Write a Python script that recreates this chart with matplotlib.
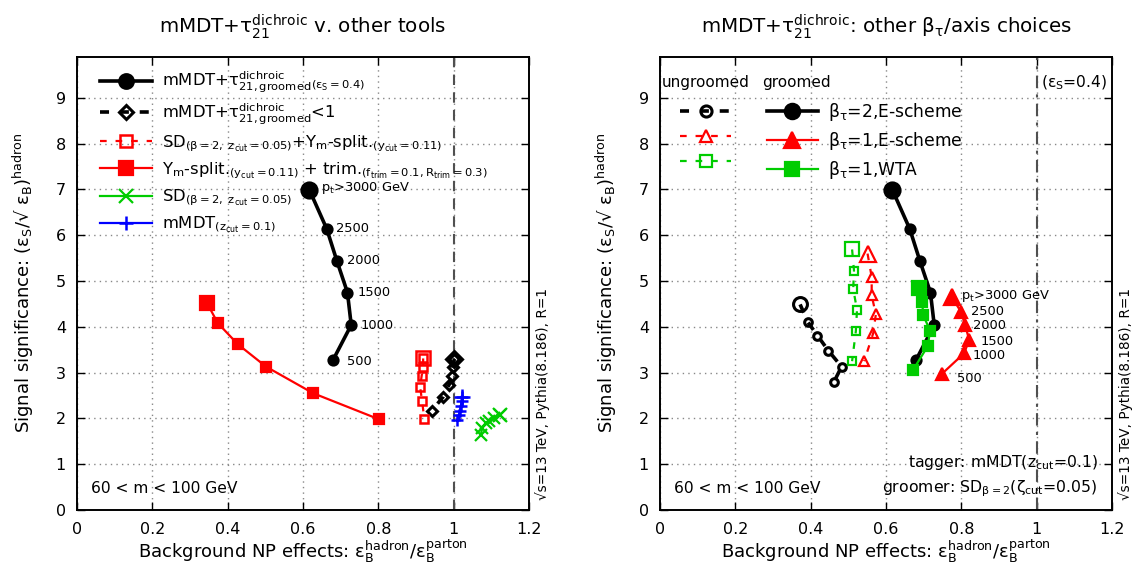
import matplotlib
matplotlib.use('Agg')
import matplotlib.pyplot as plt
from matplotlib.lines import Line2D

plt.rcParams['font.family'] = ['DejaVu Sans']
plt.rcParams['mathtext.default'] = 'regular'
plt.rcParams['font.size'] = 11.5

# ---------------- data ----------------
pt_labels = [r'$p_t$>3000 GeV', '2500', '2000', '1500', '1000', '500']

# left panel
dichroic_x = [0.617, 0.663, 0.690, 0.718, 0.728, 0.680]
dichroic_y = [6.99, 6.14, 5.44, 4.75, 4.04, 3.28]
dichroic_lt1_x = [1.002, 0.997, 0.995, 0.988, 0.972, 0.942]
dichroic_lt1_y = [3.30, 3.13, 2.93, 2.74, 2.47, 2.17]
sd_ysplit_x = [0.919, 0.919, 0.915, 0.911, 0.916, 0.922]
sd_ysplit_y = [3.31, 3.12, 2.93, 2.68, 2.39, 1.99]
ysplit_trim_x = [0.345, 0.374, 0.427, 0.502, 0.627, 0.802]
ysplit_trim_y = [4.52, 4.08, 3.62, 3.13, 2.55, 1.98]
sd_x = [1.123, 1.108, 1.095, 1.085, 1.076, 1.072]
sd_y = [2.07, 2.00, 1.95, 1.90, 1.80, 1.64]
mmdt_x = [1.021, 1.021, 1.019, 1.017, 1.014, 1.010]
mmdt_y = [2.47, 2.37, 2.27, 2.17, 2.07, 1.97]

# right panel
groomed_b2E_x = [0.617, 0.663, 0.690, 0.718, 0.728, 0.680]
groomed_b2E_y = [6.99, 6.14, 5.44, 4.75, 4.04, 3.28]
groomed_b1E_x = [0.774, 0.799, 0.810, 0.821, 0.807, 0.748]
groomed_b1E_y = [4.66, 4.33, 4.04, 3.71, 3.42, 2.97]
groomed_b1W_x = [0.688, 0.696, 0.699, 0.717, 0.711, 0.672]
groomed_b1W_y = [4.84, 4.55, 4.25, 3.92, 3.58, 3.06]
ungroomed_b2E_x = [0.372, 0.392, 0.418, 0.447, 0.482, 0.462]
ungroomed_b2E_y = [4.49, 4.11, 3.81, 3.48, 3.13, 2.80]
ungroomed_b1E_x = [0.551, 0.562, 0.562, 0.573, 0.566, 0.542]
ungroomed_b1E_y = [5.60, 5.09, 4.69, 4.27, 3.86, 3.25]
ungroomed_b1W_x = [0.510, 0.515, 0.513, 0.523, 0.520, 0.510]
ungroomed_b1W_y = [5.69, 5.23, 4.83, 4.37, 3.91, 3.25]

x_ticks = [0, 0.2, 0.4, 0.6, 0.8, 1.0, 1.2]
x_ticklabels = ['0', '0.2', '0.4', '0.6', '0.8', '1', '1.2']
y_ticks = [0, 1, 2, 3, 4, 5, 6, 7, 8, 9]

RED = '#ff0000'
GREEN = '#00cc00'
BLUE = '#0000ff'
BLACK = '#000000'

# ---------------- figure ----------------
W, H = 1136, 570
fig = plt.figure(figsize=(W / 100, H / 100), dpi=100)
ax_b = 1 - 510 / H
ax_h = (510 - 56.7) / H
ax1 = fig.add_axes([77 / W, ax_b, 452 / W, ax_h])
ax2 = fig.add_axes([660 / W, ax_b, 452 / W, ax_h])


def style_axes(ax):
    ax.set_xlim(0, 1.2)
    ax.set_ylim(0, 9.9)
    ax.set_xticks(x_ticks)
    ax.set_xticklabels(x_ticklabels)
    ax.set_yticks(y_ticks)
    ax.tick_params(direction='in', top=True, right=True, length=6, width=1.0,
                   labelsize=11.5)
    ax.tick_params(axis='x', pad=9)
    ax.tick_params(axis='y', pad=8)
    ax.grid(True, ls=(0, (1, 3)), color='#888888', lw=1.0)
    ax.set_axisbelow(True)
    for s in ax.spines.values():
        s.set_linewidth(1.4)
    ax.set_xlabel(r'Background NP effects: $\varepsilon_B^{hadron}$/$\varepsilon_B^{parton}$',
                  fontsize=13, labelpad=0)
    ax.set_ylabel(r'Signal significance: ($\varepsilon_S$/√ $\varepsilon_B$)$^{hadron}$',
                  fontsize=13, labelpad=14)
    ax.text(0.031, 0.048, '60 < m < 100 GeV', transform=ax.transAxes,
            ha='left', va='center', fontsize=11.2)
    ax.text(1.03, 0.256, '√s=13 TeV, Pythia(8.186), R=1', transform=ax.transAxes,
            rotation=90, ha='center', va='center', fontsize=9.8)


def series(ax, x, y, color, marker, small, big, lw=2.0, dashes=None,
           filled=True, mew=1.6, leg_size=None, skip_first=False):
    mfc = color if filled else 'none'
    every = slice(1, None) if skip_first else None
    line, = ax.plot(x, y, color=color, lw=lw, marker=marker, markersize=small,
                    mfc=mfc, mec=color, mew=mew, markevery=every, zorder=3)
    if dashes is not None:
        line.set_dashes(dashes)
    ax.plot(x[:1], y[:1], ls='none', marker=marker, markersize=big,
            mfc=mfc, mec=color, mew=mew, zorder=4)
    h = Line2D([], [], color=color, lw=lw, marker=marker,
               markersize=leg_size or big, mfc=mfc, mec=color, mew=mew)
    if dashes is not None:
        h.set_dashes(dashes)
    return h


def pt_annotate(ax, x, y, offsets):
    for xi, yi, lab, off in zip(x, y, pt_labels, offsets):
        ax.annotate(lab, (xi, yi), xytext=off, textcoords='offset points',
                    ha='left', va='center', fontsize=9.4, zorder=5)


style_axes(ax1)
style_axes(ax2)

# ---------------- left panel ----------------
ax1.axvline(1.0, color='#505050', lw=1.5, dashes=(5, 3.5), zorder=2)

h1 = series(ax1, dichroic_x, dichroic_y, BLACK, 'o', 7.2, 11.5, lw=2.6,
            leg_size=10.5)
h2 = series(ax1, dichroic_lt1_x, dichroic_lt1_y, BLACK, 'D', 5.5, 8.5, lw=2.6,
            dashes=(2.5, 3), filled=False, mew=2.2, leg_size=7.5)
h3 = series(ax1, sd_ysplit_x, sd_ysplit_y, RED, 's', 6, 10, lw=1.6,
            dashes=(3, 4), filled=False, mew=1.8, leg_size=9)
h4 = series(ax1, ysplit_trim_x, ysplit_trim_y, RED, 's', 7.5, 10.5, lw=1.6,
            leg_size=9.5)
h5 = series(ax1, sd_x, sd_y, GREEN, 'x', 8, 10, lw=1.6, mew=1.6, leg_size=10)
h6 = series(ax1, mmdt_x, mmdt_y, BLUE, '+', 9, 11, lw=1.6, mew=1.8,
            leg_size=10)

pt_annotate(ax1, dichroic_x, dichroic_y,
            [(8.6, 1.2), (7, 0), (7, 0), (7, 0), (6.5, 0), (10, -1)])

left_labels = [
    r'mMDT+$\tau_{21,groomed}^{dichroic}{}_{(\varepsilon_S=0.4)}$',
    r'mMDT+$\tau_{21,groomed}^{dichroic}$<1',
    r'SD$_{(\beta=2,\ z_{cut}=0.05)}$+Y$_m$-split.$_{(y_{cut}=0.11)}$',
    r'Y$_m$-split.$_{(y_{cut}=0.11)}$ + trim.$_{(f_{trim}=0.1,R_{trim}=0.3)}$',
    r'SD$_{(\beta=2,\ z_{cut}=0.05)}$',
    r'mMDT$_{(z_{cut}=0.1)}$',
]
leg1 = ax1.legend([h1, h2, h3, h4, h5, h6], left_labels, loc='upper left',
                  bbox_to_anchor=(0.05, 0.971), frameon=False, fontsize=11.8,
                  handlelength=3.2, handletextpad=0.62, labelspacing=0.4,
                  borderpad=0, borderaxespad=0)
leg1.set_zorder(6)

ax1.set_title(r'mMDT+$\tau_{21}^{dichroic}$ v. other tools', fontsize=14.3, pad=17)

# ---------------- right panel ----------------
ax2.axvline(1.0, color='#505050', lw=1.5, dashes=(6, 3, 1.5, 3), zorder=2)

g1 = series(ax2, groomed_b2E_x, groomed_b2E_y, BLACK, 'o', 7.2, 11.5, lw=2.6,
            leg_size=11)
u1 = series(ax2, ungroomed_b2E_x, ungroomed_b2E_y, BLACK, 'o', 5.5, 10, lw=2.6,
            dashes=(2.5, 3), filled=False, mew=2.2, leg_size=8, skip_first=True)
u2 = series(ax2, ungroomed_b1E_x, ungroomed_b1E_y, RED, '^', 7, 11, lw=1.6,
            dashes=(3, 4), filled=False, mew=1.6, leg_size=9, skip_first=True)
u3 = series(ax2, ungroomed_b1W_x, ungroomed_b1W_y, GREEN, 's', 6, 10, lw=1.6,
            dashes=(3, 4), filled=False, mew=1.6, leg_size=8, skip_first=True)
g2 = series(ax2, groomed_b1E_x, groomed_b1E_y, RED, '^', 8, 11.5, lw=1.6,
            leg_size=11)
g3 = series(ax2, groomed_b1W_x, groomed_b1W_y, GREEN, 's', 7, 10.5, lw=1.6,
            leg_size=9.5)

pt_annotate(ax2, groomed_b1E_x, groomed_b1E_y,
            [(7, 0.5), (7, 0), (6, -0.7), (8, -0.7), (6.5, -1.2), (11, -3)])

right_labels = ['', '', '',
                r'$\beta_\tau$=2,E-scheme',
                r'$\beta_\tau$=1,E-scheme',
                r'$\beta_\tau$=1,WTA']
leg2 = ax2.legend([u1, u2, u3, g1, g2, g3], right_labels, ncol=2,
                  loc='upper left', bbox_to_anchor=(0.044, 0.902), frameon=False,
                  fontsize=12.3, handlelength=3.0, handletextpad=0.62,
                  columnspacing=1.45, labelspacing=0.42, borderpad=0,
                  borderaxespad=0)
leg2.set_zorder(6)
ax2.text(0.004, 0.942, 'ungroomed', transform=ax2.transAxes, ha='left',
         va='center', fontsize=11)
ax2.text(0.226, 0.942, 'groomed', transform=ax2.transAxes, ha='left',
         va='center', fontsize=11)
ax2.text(0.989, 0.942, r'($\varepsilon_S$=0.4)', transform=ax2.transAxes,
         ha='right', va='center', fontsize=11.2)
ax2.text(0.969, 0.104, r'tagger: mMDT($z_{cut}$=0.1)', transform=ax2.transAxes,
         ha='right', va='center', fontsize=11.3)
ax2.text(0.969, 0.046, r'groomer: SD$_{\beta=2}$($\zeta_{cut}$=0.05)',
         transform=ax2.transAxes, ha='right', va='center', fontsize=11.3)

ax2.set_title(r'mMDT+$\tau_{21}^{dichroic}$: other $\beta_\tau$/axis choices',
              fontsize=14.3, pad=17)

fig.savefig('out.png', dpi=100)
